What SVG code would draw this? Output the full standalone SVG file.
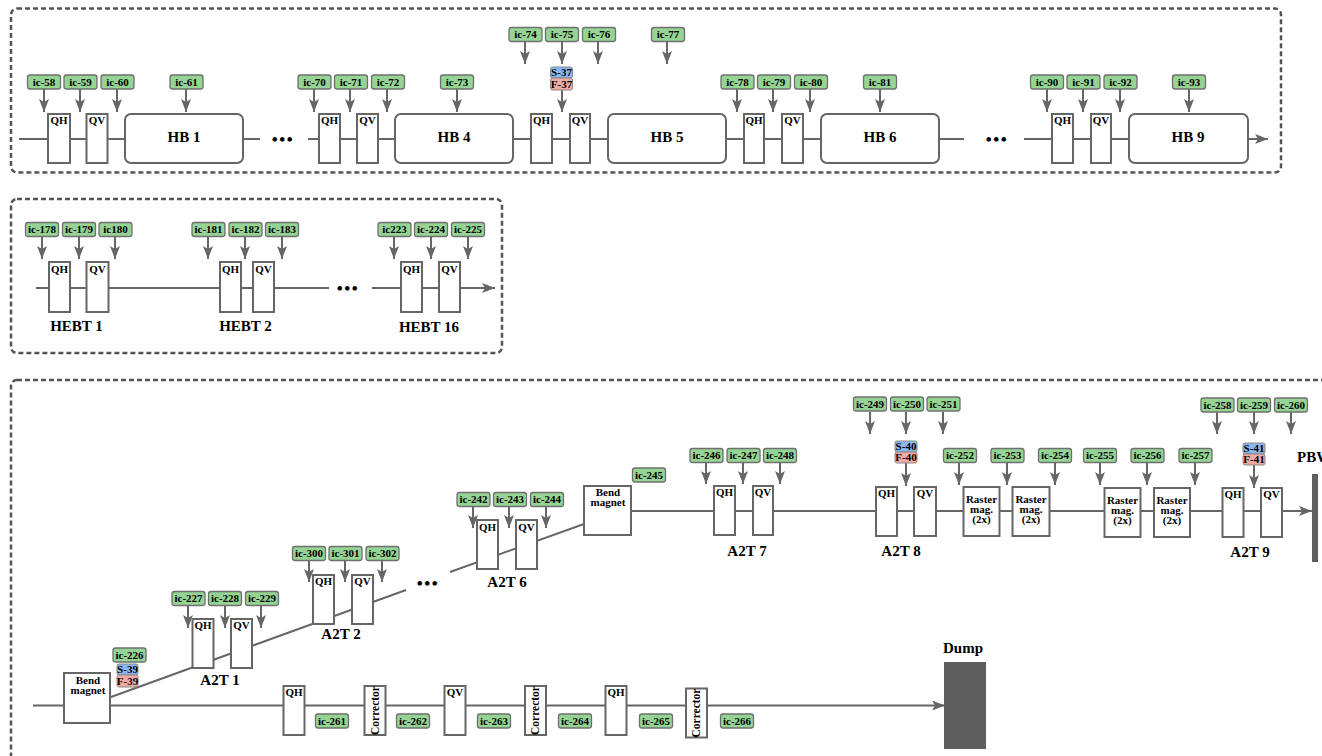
<svg xmlns="http://www.w3.org/2000/svg" width="1322" height="756" viewBox="0 0 1322 756">
<style>
text{font-family:"Liberation Serif","Times New Roman",serif;font-weight:700;font-size:11px;text-anchor:middle;fill:#000}
.frame{fill:none;stroke:#555;stroke-width:2.500;stroke-dasharray:5 3}
.b{fill:#fff;stroke:#666;stroke-width:2}
.t{fill:#95d494;stroke:#6f6f6f;stroke-width:1.300}
.s{fill:#8cb8f2;stroke:#888;stroke-width:1}
.f{fill:#f4aaa4;stroke:#888;stroke-width:1}
.l{fill:none;stroke:#666;stroke-width:2}
.a{fill:none;stroke:#666;stroke-width:2;marker-end:url(#ah)}
.big{font-size:15px}
.dots{font-size:17px;letter-spacing:1.500px}
.cor{font-size:11.500px}
.dark{fill:#5f5f5f}
</style>
<defs>
<marker id="ah" markerUnits="userSpaceOnUse" markerWidth="14" markerHeight="12" refX="13" refY="5" orient="auto"><path d="M0 0L13 5L0 10L3 5Z" fill="#666"/></marker>
</defs>
<rect class="frame" x="11" y="8.500" width="1270" height="164" rx="6"/>
<rect class="frame" x="11" y="199" width="491" height="154" rx="6"/>
<rect class="frame" x="11" y="380" width="1400" height="500" rx="6"/>
<g id="connectors">
<path class="l" d="M19 139H260M308 139H964M1024 139H1130"/>
<path class="a" d="M1248 139H1268"/>
<path class="l" d="M36 288H329"/>
<path class="a" d="M372 288H495"/>
<path class="l" d="M111 697L406 590M450 572L584 524"/>
<path class="a" d="M33 705.500H945"/>
<path class="a" d="M631 511H1312"/>
<path class="a" d="M44 89V112"/><path class="a" d="M80 89V112"/><path class="a" d="M117 89V112"/><path class="a" d="M186 89V112"/><path class="a" d="M314 89V112"/><path class="a" d="M350 89V112"/><path class="a" d="M387 89V112"/><path class="a" d="M457 89V112"/>
<path class="a" d="M525 41V64"/><path class="a" d="M562 41V64"/><path class="a" d="M598 41V64"/><path class="a" d="M667 41V64"/><path class="a" d="M562 90V112"/>
<path class="a" d="M737 89V112"/><path class="a" d="M773 89V112"/><path class="a" d="M810 89V112"/><path class="a" d="M880 89V112"/><path class="a" d="M1047 89V112"/><path class="a" d="M1083 89V112"/><path class="a" d="M1120 89V112"/><path class="a" d="M1189 89V112"/>
<path class="a" d="M42 236V259"/><path class="a" d="M79 236V259"/><path class="a" d="M115 236V259"/><path class="a" d="M208 236V259"/><path class="a" d="M245 236V259"/><path class="a" d="M282 236V259"/><path class="a" d="M394 236V259"/><path class="a" d="M431 236V259"/><path class="a" d="M468 236V259"/>
<path class="a" d="M188 606V628"/><path class="a" d="M225 606V628"/><path class="a" d="M261 606V628"/>
<path class="a" d="M309 560V582"/><path class="a" d="M345 560V582"/><path class="a" d="M382 560V582"/>
<path class="a" d="M473 506V528"/><path class="a" d="M509 506V528"/><path class="a" d="M546 506V528"/>
<path class="a" d="M706 462V484"/><path class="a" d="M743 462V484"/><path class="a" d="M780 462V484"/>
<path class="a" d="M870 412V434"/><path class="a" d="M906 412V434"/><path class="a" d="M943 412V434"/><path class="a" d="M906 463V486"/>
<path class="a" d="M959 462V485"/><path class="a" d="M1007 462V485"/><path class="a" d="M1055 462V485"/><path class="a" d="M1100 462V485"/><path class="a" d="M1147 462V485"/><path class="a" d="M1195 462V485"/>
<path class="a" d="M1217 412V434"/><path class="a" d="M1254 412V434"/><path class="a" d="M1291 412V434"/><path class="a" d="M1254 465V488"/>
</g>
<g id="hb-line">
<g id="qh1"><rect class="b" x="48" y="114" width="22" height="49"/><text x="59" y="124">QH</text></g>
<g id="qv1"><rect class="b" x="86.500" y="114" width="21" height="49"/><text x="97" y="124">QV</text></g>
<g id="hb1"><rect class="b" x="125" y="114" width="118" height="49" rx="6"/><text class="big" x="184" y="142">HB 1</text></g>
<g id="dots1"><text class="dots" x="283" y="145">•••</text></g>
<g id="qh2"><rect class="b" x="319" y="114" width="21" height="49"/><text x="329.500" y="124">QH</text></g>
<g id="qv2"><rect class="b" x="357" y="114" width="21" height="49"/><text x="367.500" y="124">QV</text></g>
<g id="hb4"><rect class="b" x="395" y="114" width="118" height="49" rx="6"/><text class="big" x="454" y="142">HB 4</text></g>
<g id="qh3"><rect class="b" x="531" y="114" width="21" height="49"/><text x="541.500" y="124">QH</text></g>
<g id="qv3"><rect class="b" x="570" y="114" width="20" height="49"/><text x="580" y="124">QV</text></g>
<g id="hb5"><rect class="b" x="608" y="114" width="118" height="49" rx="6"/><text class="big" x="667" y="142">HB 5</text></g>
<g id="qh4"><rect class="b" x="744" y="114" width="20" height="49"/><text x="754" y="124">QH</text></g>
<g id="qv4"><rect class="b" x="782" y="114" width="21" height="49"/><text x="792.500" y="124">QV</text></g>
<g id="hb6"><rect class="b" x="821" y="114" width="118" height="49" rx="6"/><text class="big" x="880" y="142">HB 6</text></g>
<g id="dots2"><text class="dots" x="997" y="145">•••</text></g>
<g id="qh5"><rect class="b" x="1052" y="114" width="21" height="49"/><text x="1062.500" y="124">QH</text></g>
<g id="qv5"><rect class="b" x="1091" y="114" width="20" height="49"/><text x="1101" y="124">QV</text></g>
<g id="hb9"><rect class="b" x="1129" y="114" width="119" height="49" rx="6"/><text class="big" x="1188" y="142">HB 9</text></g>
</g>
<g id="hb-tags">
<g id="ic58"><rect class="t" x="27.500" y="75" width="33" height="14" rx="2.500"/><text x="44" y="85.500">ic-58</text></g>
<g id="ic59"><rect class="t" x="64" y="75" width="33" height="14" rx="2.500"/><text x="80.500" y="85.500">ic-59</text></g>
<g id="ic60"><rect class="t" x="101" y="75" width="33" height="14" rx="2.500"/><text x="117.500" y="85.500">ic-60</text></g>
<g id="ic61"><rect class="t" x="170" y="75" width="33" height="14" rx="2.500"/><text x="186.500" y="85.500">ic-61</text></g>
<g id="ic70"><rect class="t" x="298" y="75" width="33" height="14" rx="2.500"/><text x="314.500" y="85.500">ic-70</text></g>
<g id="ic71"><rect class="t" x="334.500" y="75" width="33" height="14" rx="2.500"/><text x="351" y="85.500">ic-71</text></g>
<g id="ic72"><rect class="t" x="371.500" y="75" width="33" height="14" rx="2.500"/><text x="388" y="85.500">ic-72</text></g>
<g id="ic73"><rect class="t" x="440.500" y="75" width="33" height="14" rx="2.500"/><text x="457" y="85.500">ic-73</text></g>
<g id="ic74"><rect class="t" x="509" y="27.500" width="33" height="14" rx="2.500"/><text x="525.500" y="38">ic-74</text></g>
<g id="ic75"><rect class="t" x="545.500" y="27.500" width="33" height="14" rx="2.500"/><text x="562" y="38">ic-75</text></g>
<g id="ic76"><rect class="t" x="582.500" y="27.500" width="33" height="14" rx="2.500"/><text x="599" y="38">ic-76</text></g>
<g id="ic77"><rect class="t" x="651.500" y="27.500" width="33" height="14" rx="2.500"/><text x="668" y="38">ic-77</text></g>
<g id="s37"><rect class="s" x="550.500" y="67" width="22" height="11" rx="2"/><text x="561.500" y="76">S-37</text></g>
<g id="f37"><rect class="f" x="550.500" y="78" width="22" height="12" rx="2"/><text x="561.500" y="87.500">F-37</text></g>
<g id="ic78"><rect class="t" x="721" y="75" width="33" height="14" rx="2.500"/><text x="737.500" y="85.500">ic-78</text></g>
<g id="ic79"><rect class="t" x="757.500" y="75" width="33" height="14" rx="2.500"/><text x="774" y="85.500">ic-79</text></g>
<g id="ic80"><rect class="t" x="794.500" y="75" width="33" height="14" rx="2.500"/><text x="811" y="85.500">ic-80</text></g>
<g id="ic81"><rect class="t" x="863.500" y="75" width="33" height="14" rx="2.500"/><text x="880" y="85.500">ic-81</text></g>
<g id="ic90"><rect class="t" x="1030.500" y="75" width="33" height="14" rx="2.500"/><text x="1047" y="85.500">ic-90</text></g>
<g id="ic91"><rect class="t" x="1067" y="75" width="33" height="14" rx="2.500"/><text x="1083.500" y="85.500">ic-91</text></g>
<g id="ic92"><rect class="t" x="1104" y="75" width="33" height="14" rx="2.500"/><text x="1120.500" y="85.500">ic-92</text></g>
<g id="ic93"><rect class="t" x="1172.500" y="75" width="33" height="14" rx="2.500"/><text x="1189" y="85.500">ic-93</text></g>
</g>
<g id="hebt">
<g id="hqh1"><rect class="b" x="49" y="262" width="21" height="50"/><text x="59.500" y="273">QH</text></g>
<g id="hqv1"><rect class="b" x="86.500" y="262" width="22" height="50"/><text x="97.500" y="273">QV</text></g>
<g id="hqh2"><rect class="b" x="220" y="262" width="21" height="50"/><text x="230.500" y="273">QH</text></g>
<g id="hqv2"><rect class="b" x="253" y="262" width="21" height="50"/><text x="263.500" y="273">QV</text></g>
<g id="hdots"><text class="dots" x="348" y="294">•••</text></g>
<g id="hqh3"><rect class="b" x="401" y="262" width="21" height="50"/><text x="411.500" y="273">QH</text></g>
<g id="hqv3"><rect class="b" x="439" y="262" width="21" height="50"/><text x="449.500" y="273">QV</text></g>
<text class="big" x="76.500" y="331">HEBT 1</text>
<text class="big" x="245.500" y="331">HEBT 2</text>
<text class="big" x="429" y="332">HEBT 16</text>
<g id="ic178"><rect class="t" x="25.500" y="222.500" width="33" height="14" rx="2.500"/><text x="42" y="233">ic-178</text></g>
<g id="ic179"><rect class="t" x="62.500" y="222.500" width="33" height="14" rx="2.500"/><text x="79" y="233">ic-179</text></g>
<g id="ic180"><rect class="t" x="99" y="222.500" width="33" height="14" rx="2.500"/><text x="115.500" y="233">ic180</text></g>
<g id="ic181"><rect class="t" x="192" y="222.500" width="33" height="14" rx="2.500"/><text x="208.500" y="233">ic-181</text></g>
<g id="ic182"><rect class="t" x="229" y="222.500" width="33" height="14" rx="2.500"/><text x="245.500" y="233">ic-182</text></g>
<g id="ic183"><rect class="t" x="265.500" y="222.500" width="33" height="14" rx="2.500"/><text x="282" y="233">ic-183</text></g>
<g id="ic223"><rect class="t" x="378" y="222.500" width="33" height="14" rx="2.500"/><text x="394.500" y="233">ic223</text></g>
<g id="ic224"><rect class="t" x="414.500" y="222.500" width="33" height="14" rx="2.500"/><text x="431" y="233">ic-224</text></g>
<g id="ic225"><rect class="t" x="451.500" y="222.500" width="33" height="14" rx="2.500"/><text x="468" y="233">ic-225</text></g>
</g>
<g id="a2t">
<g id="bend1"><rect class="b" x="64" y="673" width="46" height="50"/><text x="88" y="684">Bend</text><text x="88" y="694">magnet</text></g>
<g id="ic226"><rect class="t" x="113" y="648" width="33" height="14" rx="2.500"/><text x="129.500" y="658.500">ic-226</text></g>
<g id="s39"><rect class="s" x="117" y="664" width="21" height="11" rx="2"/><text x="127.500" y="673">S-39</text></g>
<g id="f39"><rect class="f" x="117" y="675" width="21" height="12" rx="2"/><text x="127.500" y="684.500">F-39</text></g>
<g id="a1qh"><rect class="b" x="192.500" y="619" width="21" height="49"/><text x="203" y="629">QH</text></g>
<g id="a1qv"><rect class="b" x="231" y="619" width="21" height="49"/><text x="241.500" y="629">QV</text></g>
<text class="big" x="220" y="685">A2T 1</text>
<g id="ic227"><rect class="t" x="172" y="591.500" width="33" height="14" rx="2.500"/><text x="188.500" y="602">ic-227</text></g>
<g id="ic228"><rect class="t" x="208.500" y="591.500" width="33" height="14" rx="2.500"/><text x="225" y="602">ic-228</text></g>
<g id="ic229"><rect class="t" x="245.500" y="591.500" width="33" height="14" rx="2.500"/><text x="262" y="602">ic-229</text></g>
<g id="a2qh"><rect class="b" x="313" y="575" width="21" height="49"/><text x="323.500" y="585">QH</text></g>
<g id="a2qv"><rect class="b" x="352" y="575" width="21" height="49"/><text x="362.500" y="585">QV</text></g>
<text class="big" x="341" y="639">A2T 2</text>
<g id="ic300"><rect class="t" x="292.500" y="546.500" width="33" height="14" rx="2.500"/><text x="309" y="557">ic-300</text></g>
<g id="ic301"><rect class="t" x="329" y="546.500" width="33" height="14" rx="2.500"/><text x="345.500" y="557">ic-301</text></g>
<g id="ic302"><rect class="t" x="366" y="546.500" width="33" height="14" rx="2.500"/><text x="382.500" y="557">ic-302</text></g>
<g id="adots"><text class="dots" x="428" y="589">•••</text></g>
<g id="a6qh"><rect class="b" x="477" y="520" width="21" height="49"/><text x="487.500" y="531">QH</text></g>
<g id="a6qv"><rect class="b" x="516" y="520" width="21" height="49"/><text x="526.500" y="531">QV</text></g>
<text class="big" x="507" y="587">A2T 6</text>
<g id="ic242"><rect class="t" x="457" y="492.500" width="33" height="14" rx="2.500"/><text x="473.500" y="503">ic-242</text></g>
<g id="ic243"><rect class="t" x="493.500" y="492.500" width="33" height="14" rx="2.500"/><text x="510" y="503">ic-243</text></g>
<g id="ic244"><rect class="t" x="530.500" y="492.500" width="33" height="14" rx="2.500"/><text x="547" y="503">ic-244</text></g>
<g id="bend2"><rect class="b" x="584" y="486" width="47" height="49"/><text x="608" y="496">Bend</text><text x="608" y="506">magnet</text></g>
<g id="ic245"><rect class="t" x="632.500" y="468" width="33" height="14" rx="2.500"/><text x="649" y="478.500">ic-245</text></g>
<g id="a7qh"><rect class="b" x="714" y="486" width="21" height="49"/><text x="724.500" y="496">QH</text></g>
<g id="a7qv"><rect class="b" x="753" y="486" width="20" height="49"/><text x="763" y="496">QV</text></g>
<text class="big" x="747" y="556">A2T 7</text>
<g id="ic246"><rect class="t" x="690" y="448.500" width="33" height="14" rx="2.500"/><text x="706.500" y="459">ic-246</text></g>
<g id="ic247"><rect class="t" x="727" y="448.500" width="33" height="14" rx="2.500"/><text x="743.500" y="459">ic-247</text></g>
<g id="ic248"><rect class="t" x="763.500" y="448.500" width="33" height="14" rx="2.500"/><text x="780" y="459">ic-248</text></g>
<g id="a8qh"><rect class="b" x="876" y="487" width="21" height="49"/><text x="886.500" y="497">QH</text></g>
<g id="a8qv"><rect class="b" x="914" y="487" width="22" height="49"/><text x="925" y="497">QV</text></g>
<text class="big" x="901" y="556">A2T 8</text>
<g id="ic249"><rect class="t" x="853.500" y="397" width="33" height="14" rx="2.500"/><text x="870" y="407.500">ic-249</text></g>
<g id="ic250"><rect class="t" x="890.500" y="397" width="33" height="14" rx="2.500"/><text x="907" y="407.500">ic-250</text></g>
<g id="ic251"><rect class="t" x="927" y="397" width="33" height="14" rx="2.500"/><text x="943.500" y="407.500">ic-251</text></g>
<g id="s40"><rect class="s" x="895" y="441" width="22" height="11" rx="2"/><text x="906" y="449.500">S-40</text></g>
<g id="f40"><rect class="f" x="895" y="452" width="22" height="11" rx="2"/><text x="906" y="461">F-40</text></g>
<g id="r1"><rect class="b" x="963.500" y="487" width="36" height="49"/><text x="981.500" y="503">Raster</text><text x="981.500" y="513">mag.</text><text x="981.500" y="523">(2x)</text></g>
<g id="r2"><rect class="b" x="1012.500" y="487" width="37" height="49"/><text x="1031" y="503">Raster</text><text x="1031" y="513">mag.</text><text x="1031" y="523">(2x)</text></g>
<g id="r3"><rect class="b" x="1104.500" y="488" width="36" height="49"/><text x="1122.500" y="504">Raster</text><text x="1122.500" y="514">mag.</text><text x="1122.500" y="524">(2x)</text></g>
<g id="r4"><rect class="b" x="1154" y="488" width="36" height="49"/><text x="1172" y="504">Raster</text><text x="1172" y="514">mag.</text><text x="1172" y="524">(2x)</text></g>
<g id="ic252"><rect class="t" x="943.500" y="448.500" width="33" height="14" rx="2.500"/><text x="960" y="459">ic-252</text></g>
<g id="ic253"><rect class="t" x="991" y="448.500" width="33" height="14" rx="2.500"/><text x="1007.500" y="459">ic-253</text></g>
<g id="ic254"><rect class="t" x="1038.500" y="448.500" width="33" height="14" rx="2.500"/><text x="1055" y="459">ic-254</text></g>
<g id="ic255"><rect class="t" x="1083.500" y="448.500" width="33" height="14" rx="2.500"/><text x="1100" y="459">ic-255</text></g>
<g id="ic256"><rect class="t" x="1131" y="448.500" width="33" height="14" rx="2.500"/><text x="1147.500" y="459">ic-256</text></g>
<g id="ic257"><rect class="t" x="1179" y="448.500" width="33" height="14" rx="2.500"/><text x="1195.500" y="459">ic-257</text></g>
<g id="a9qh"><rect class="b" x="1222.500" y="488" width="21" height="49"/><text x="1233" y="498">QH</text></g>
<g id="a9qv"><rect class="b" x="1261" y="488" width="21" height="49"/><text x="1271.500" y="498">QV</text></g>
<text class="big" x="1250" y="557">A2T 9</text>
<g id="ic258"><rect class="t" x="1201" y="398" width="33" height="14" rx="2.500"/><text x="1217.500" y="408.500">ic-258</text></g>
<g id="ic259"><rect class="t" x="1237.500" y="398" width="33" height="14" rx="2.500"/><text x="1254" y="408.500">ic-259</text></g>
<g id="ic260"><rect class="t" x="1274.500" y="398" width="33" height="14" rx="2.500"/><text x="1291" y="408.500">ic-260</text></g>
<g id="s41"><rect class="s" x="1243" y="443" width="22" height="11" rx="2"/><text x="1254" y="451.500">S-41</text></g>
<g id="f41"><rect class="f" x="1243" y="454" width="22" height="11" rx="2"/><text x="1254" y="463">F-41</text></g>
<g id="pbw"><rect class="dark" x="1312" y="474" width="6" height="88"/><text class="big" x="1297" y="462" style="text-anchor:start">PBW</text></g>
</g>
<g id="dump-line">
<g id="dqh1"><rect class="b" x="283.500" y="686" width="21" height="49"/><text x="294" y="696">QH</text></g>
<g id="c1"><rect class="b" x="364.500" y="686" width="21" height="49"/><text class="cor" transform="translate(378.500 710.500) rotate(-90)">Corrector</text></g>
<g id="dqv"><rect class="b" x="444.500" y="686" width="21" height="49"/><text x="455" y="696">QV</text></g>
<g id="c2"><rect class="b" x="525" y="686" width="21" height="49"/><text class="cor" transform="translate(539 710.500) rotate(-90)">Corrector</text></g>
<g id="dqh2"><rect class="b" x="605.500" y="686" width="21" height="49"/><text x="616" y="696">QH</text></g>
<g id="c3"><rect class="b" x="686" y="688.500" width="21" height="49"/><text class="cor" transform="translate(700 713) rotate(-90)">Corrector</text></g>
<g id="ic261"><rect class="t" x="315.500" y="714" width="33" height="14" rx="2.500"/><text x="332" y="724.500">ic-261</text></g>
<g id="ic262"><rect class="t" x="396.500" y="714" width="33" height="14" rx="2.500"/><text x="413" y="724.500">ic-262</text></g>
<g id="ic263"><rect class="t" x="477.500" y="714" width="33" height="14" rx="2.500"/><text x="494" y="724.500">ic-263</text></g>
<g id="ic264"><rect class="t" x="558.500" y="714" width="33" height="14" rx="2.500"/><text x="575" y="724.500">ic-264</text></g>
<g id="ic265"><rect class="t" x="639.500" y="714" width="33" height="14" rx="2.500"/><text x="656" y="724.500">ic-265</text></g>
<g id="ic266"><rect class="t" x="720.500" y="714" width="33" height="14" rx="2.500"/><text x="737" y="724.500">ic-266</text></g>
<g id="dump"><rect class="dark" x="944" y="662" width="42" height="87"/><text class="big" x="963" y="653">Dump</text></g>
</g>
</svg>
